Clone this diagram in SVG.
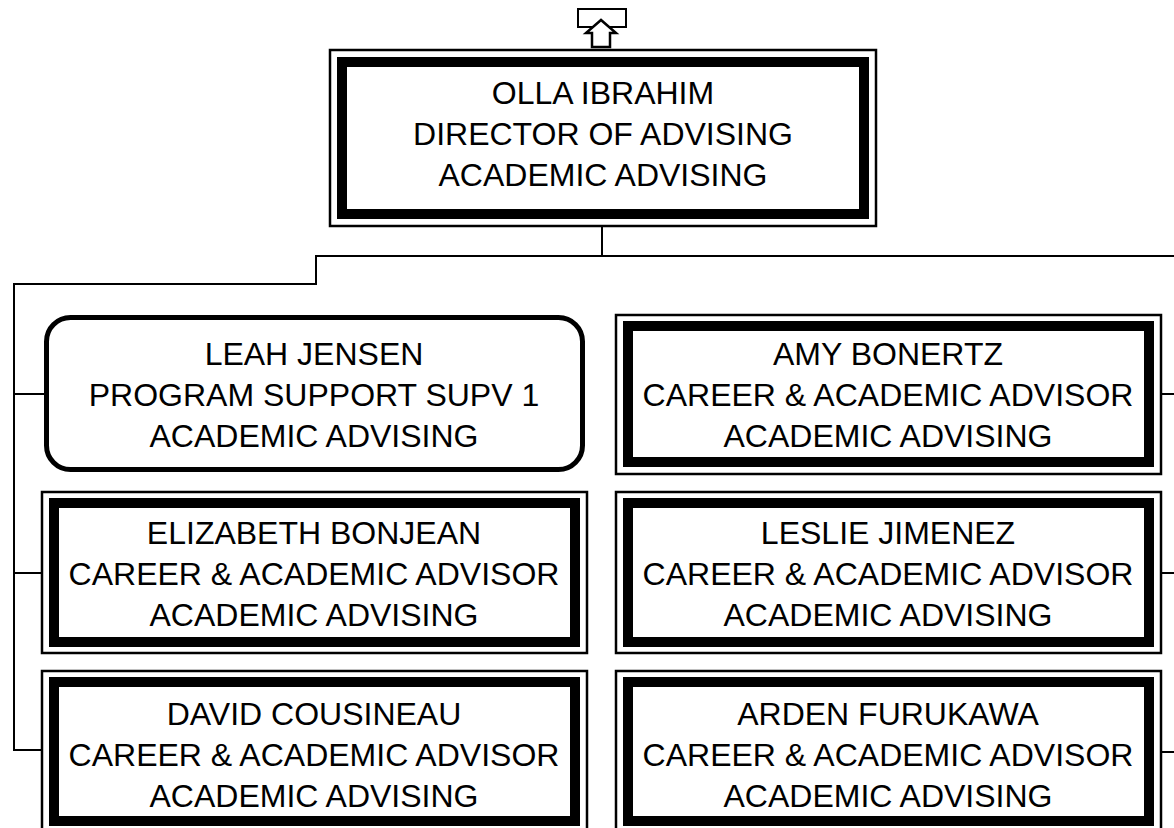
<svg xmlns="http://www.w3.org/2000/svg" width="1174" height="828" viewBox="0 0 1174 828">
<style>
.o{fill:#fff;stroke:#000;stroke-width:2.5}
.i{fill:none;stroke:#000;stroke-width:10}
.r{fill:#fff;stroke:#000;stroke-width:5}
.c{fill:none;stroke:#000;stroke-width:2}
text{font-family:"Liberation Sans",Arial,sans-serif;font-size:32px;fill:#000;text-anchor:middle}
</style>
<rect width="1174" height="828" fill="#fff"/>
<g id="connectors">
<polyline class="c" points="602,227 602,256 316,256 316,284 14,284 14,750 42,750"/>
<line class="c" x1="602" y1="256" x2="1174" y2="256"/>
<line class="c" x1="14" y1="394" x2="44" y2="394"/>
<line class="c" x1="14" y1="573" x2="42" y2="573"/>
<line class="c" x1="1161" y1="394" x2="1174" y2="394"/>
<line class="c" x1="1161" y1="573" x2="1174" y2="573"/>
<line class="c" x1="1161" y1="752" x2="1174" y2="752"/>
</g>
<g id="icon">
<rect x="578" y="9" width="48" height="18" fill="#fff" stroke="#000" stroke-width="2"/>
<polygon points="601,20 586,33 592,33 592,47 610,47 610,33 616,33" fill="#fff" stroke="#000" stroke-width="2.5"/>
</g>
<g id="olla">
<rect class="o" x="330" y="50" width="546" height="176"/>
<rect class="i" x="342" y="62" width="522" height="152"/>
<text x="603" y="104">OLLA IBRAHIM</text>
<text x="603" y="145">DIRECTOR OF ADVISING</text>
<text x="603" y="186">ACADEMIC ADVISING</text>
</g>
<g id="leah">
<rect class="r" x="46.5" y="317.5" width="536" height="152" rx="24"/>
<text x="314" y="365">LEAH JENSEN</text>
<text x="314" y="406">PROGRAM SUPPORT SUPV 1</text>
<text x="314" y="447">ACADEMIC ADVISING</text>
</g>
<g id="amy">
<rect class="o" x="616" y="315" width="545" height="159"/>
<rect class="i" x="628" y="326" width="521" height="136"/>
<text x="888" y="365">AMY BONERTZ</text>
<text x="888" y="406">CAREER &amp; ACADEMIC ADVISOR</text>
<text x="888" y="447">ACADEMIC ADVISING</text>
</g>
<g id="elizabeth">
<rect class="o" x="42" y="492" width="545" height="161"/>
<rect class="i" x="54" y="503" width="521" height="139"/>
<text x="314" y="544">ELIZABETH BONJEAN</text>
<text x="314" y="585">CAREER &amp; ACADEMIC ADVISOR</text>
<text x="314" y="626">ACADEMIC ADVISING</text>
</g>
<g id="leslie">
<rect class="o" x="616" y="492" width="545" height="161"/>
<rect class="i" x="628" y="503" width="521" height="139"/>
<text x="888" y="544">LESLIE JIMENEZ</text>
<text x="888" y="585">CAREER &amp; ACADEMIC ADVISOR</text>
<text x="888" y="626">ACADEMIC ADVISING</text>
</g>
<g id="david">
<rect class="o" x="42" y="671" width="545" height="161"/>
<rect class="i" x="54" y="682" width="521" height="139"/>
<text x="314" y="725">DAVID COUSINEAU</text>
<text x="314" y="766">CAREER &amp; ACADEMIC ADVISOR</text>
<text x="314" y="807">ACADEMIC ADVISING</text>
</g>
<g id="arden">
<rect class="o" x="616" y="671" width="545" height="161"/>
<rect class="i" x="628" y="682" width="521" height="139"/>
<text x="888" y="725">ARDEN FURUKAWA</text>
<text x="888" y="766">CAREER &amp; ACADEMIC ADVISOR</text>
<text x="888" y="807">ACADEMIC ADVISING</text>
</g>
</svg>
